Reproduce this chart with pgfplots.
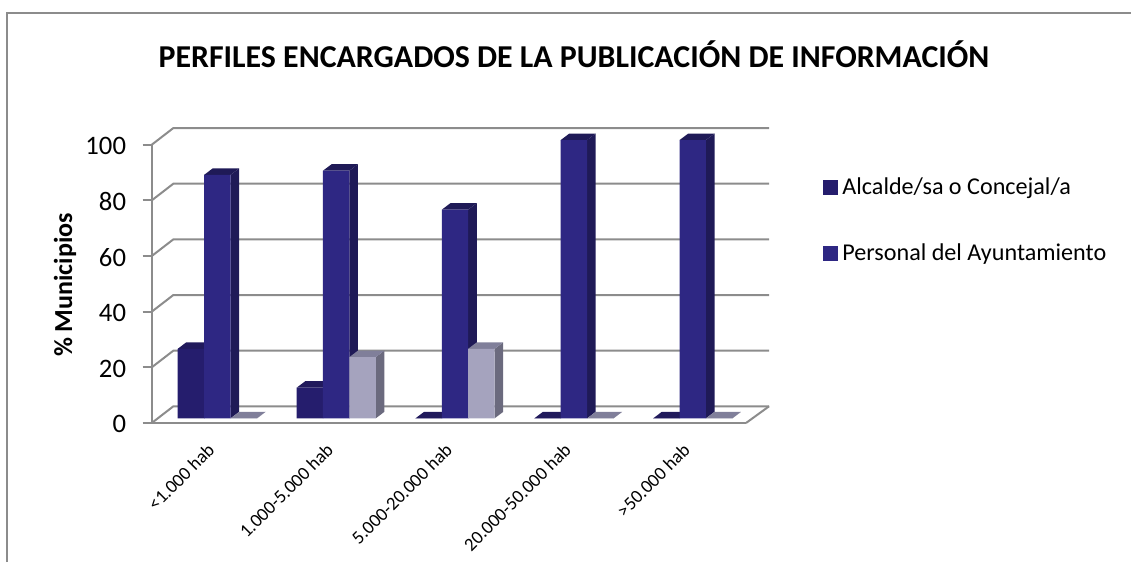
\documentclass[border=0pt]{standalone}
\usepackage{fontspec}
\setmainfont{Carlito}
\usepackage{pgfplots}
\usepackage{pgfplotstable}
\pgfplotsset{compat=1.18}
\definecolor{gridgray}{HTML}{8C8C8C}
\definecolor{aFront}{HTML}{251D6D}
\definecolor{aTop}{HTML}{211A5C}
\definecolor{bFront}{HTML}{2E2783}
\definecolor{bTop}{HTML}{1F1A57}
\definecolor{cFront}{HTML}{A5A3BE}
\definecolor{cTop}{HTML}{807F9A}
\definecolor{cSide}{HTML}{6B6A7E}
\pgfplotstableread{
x A B C
0 25 87.5 0
1 11 89 22
2 0 75 25
3 0 100 0
4 0 100 0
}\datatable
% depth faces of the bars, in data units
\newcommand{\barfaces}[4]{%
  \pgfplotsforeachungrouped \r in {0,...,4}{%
    \pgfplotstablegetelem{\r}{#1}\of\datatable
    \pgfmathsetmacro\vv{\pgfplotsretval}%
    \pgfmathsetmacro\vt{\vv+2.34}%
    \pgfmathsetmacro\xl{\r+#2*0.222-0.111}%
    \pgfmathsetmacro\xr{\r+#2*0.222+0.111}%
    \pgfmathsetmacro\xlb{\xl+0.0724}%
    \pgfmathsetmacro\xrb{\xr+0.0724}%
    \addplot[forget plot,fill=#4,draw=none,yshift=3.5pt] coordinates {(\xr,0) (\xr,\vv) (\xrb,\vt) (\xrb,2.34)} -- cycle;
    \addplot[forget plot,fill=#3,draw=none,yshift=3.5pt] coordinates {(\xl,\vv) (\xr,\vv) (\xrb,\vt) (\xlb,\vt)} -- cycle;
  }%
}
\newcommand{\gridrow}[1]{%
  \pgfmathsetmacro\gt{#1+6}%
  \addplot[forget plot,gridgray,line width=1.5pt] coordinates {(-0.552,#1) (-0.370,\gt) (4.642,\gt)};
}
\begin{document}
\begin{tikzpicture}
\useasboundingbox (0,0) rectangle (848.25pt,421.5pt);
\draw[gridgray,line width=1.5pt] (5.3pt,0) -- (5.3pt,411.75pt) -- (848.25pt,411.75pt);
\begin{axis}[
  at={(113.8pt,104.25pt)},anchor=south west,
  scale only axis,width=445.7pt,height=208.7pt,
  clip=false,
  xmin=-0.552,xmax=4.448,ymin=0,ymax=100,
  axis lines=left,
  axis line style={-,gridgray,line width=1.5pt},
  tick align=outside,
  major tick length=6.75pt,
  y tick style={gridgray,line width=1.5pt},
  x tick style={draw=none},
  ytick={0,20,40,60,80,100},
  xtick={0,1,2,3,4},
  xticklabels={<1.000 hab,1.000-5.000 hab,5.000-20.000 hab,20.000-50.000 hab,>50.000 hab},
  xticklabel style={xshift=-8.2pt,yshift=-2.8pt,rotate=45,anchor=north east,font=\fontsize{14}{16}\selectfont},
  yticklabel style={font=\fontsize{20}{22}\selectfont,/pgf/number format/assume math mode=true,xshift=-9pt,yshift=-1pt},
  every axis y label/.style={at={(rel axis cs:-0.146,0.496)},rotate=90,anchor=center,font=\fontsize{19.5}{22}\selectfont\bfseries},
  ylabel={\% Municipios},
  title={PERFILES ENCARGADOS DE LA PUBLICACIÓN DE INFORMACIÓN},
  title style={at={(rel axis cs:0.7106,1.3165)},anchor=center,font=\fontsize{23.9}{28}\selectfont\bfseries,yshift=-4pt},
  legend style={at={(rel axis cs:1.1295,0.893)},anchor=north west,draw=none,fill=none,row sep=31.7pt,font=\fontsize{18.1}{22}\selectfont,inner sep=0pt},
  legend cell align=left,
]
\gridrow{0}\gridrow{20}\gridrow{40}\gridrow{60}\gridrow{80}\gridrow{100}
\addplot[forget plot,gridgray,line width=1.5pt] coordinates {(4.448,0) (4.642,6)};
\barfaces{A}{-1}{aTop}{aTop}
\addplot[forget plot,ybar,bar width=19.8pt,bar shift=-19.8pt,fill=aFront,draw=none,yshift=3.5pt] table[x=x,y=A] {\datatable};
\barfaces{B}{0}{bTop}{bTop}
\addplot[forget plot,ybar,bar width=19.8pt,bar shift=0pt,fill=bFront,draw=none,yshift=3.5pt] table[x=x,y=B] {\datatable};
\barfaces{C}{1}{cTop}{cSide}
\addplot[forget plot,ybar,bar width=19.8pt,bar shift=19.8pt,fill=cFront,draw=none,yshift=3.5pt] table[x=x,y=C] {\datatable};
\addlegendimage{legend image code/.code={\fill[aFront] (0pt,-5.25pt) rectangle (10.5pt,5.25pt); \path (12pt,0pt);}}
\addlegendentry{Alcalde/sa o Concejal/a}
\addlegendimage{legend image code/.code={\fill[bFront] (0pt,-5.25pt) rectangle (10.5pt,5.25pt); \path (12pt,0pt);}}
\addlegendentry{Personal del Ayuntamiento}
\end{axis}
\end{tikzpicture}
\end{document}
